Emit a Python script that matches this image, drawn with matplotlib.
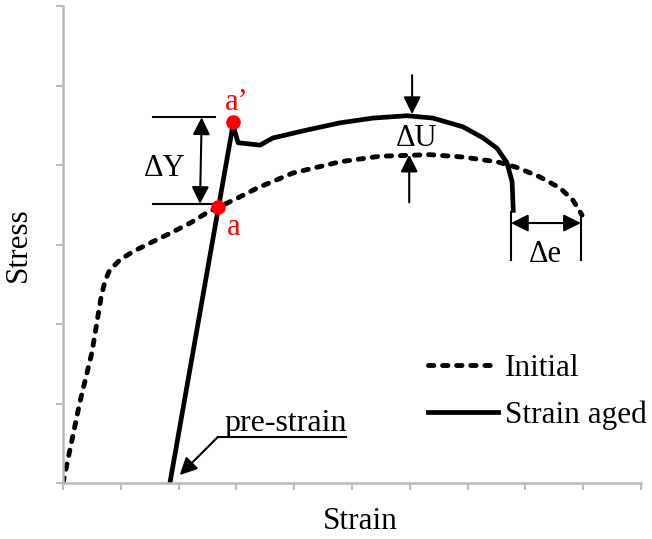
import matplotlib

matplotlib.use("Agg")
import matplotlib.pyplot as plt

# curve data (arbitrary units)
initial_strain = [0, 0.29, 0.50, 0.66, 0.73, 0.81, 0.99, 1.21, 1.51, 1.85, 2.20,
                  2.49, 3.01, 3.36, 3.98, 4.79, 5.48, 6.35, 6.92, 7.51, 7.85,
                  8.25, 8.60, 8.82, 8.98]
initial_stress = [0, 1.01, 1.64, 2.34, 2.55, 2.68, 2.81, 2.91, 3.02, 3.14, 3.27,
                  3.40, 3.58, 3.71, 3.90, 4.04, 4.11, 4.13, 4.10, 4.04, 3.97,
                  3.85, 3.71, 3.56, 3.37]

aged_strain = [1.85, 2.94, 3.03, 3.41, 3.63, 4.22, 4.79, 5.36, 5.95, 6.40, 6.92,
               7.27, 7.51, 7.68, 7.77, 7.79]
aged_stress = [0, 4.50, 4.28, 4.25, 4.34, 4.44, 4.53, 4.59, 4.62, 4.59, 4.48,
               4.34, 4.21, 4.03, 3.79, 3.43]

# points a and a'
point_strain = [2.69, 2.94]
point_stress = [3.47, 4.54]
point_labels = ["a", "a\u2019"]

legend_labels = ["Initial", "Strain aged"]

plt.rcParams["font.family"] = ["Liberation Serif", "DejaVu Serif"]
axis_gray = "#b4bdb8"

fig = plt.figure(figsize=(6.52, 5.39), dpi=100)
ax = fig.add_axes([63 / 652, 56 / 539, 578 / 652, 477 / 539])

l1, = ax.plot(initial_strain, initial_stress, color="k", lw=3.5,
              dashes=(1.1, 1.8), dash_capstyle="round", label=legend_labels[0])
l2, = ax.plot(aged_strain, aged_stress, color="k", lw=3.4, label=legend_labels[1],
              solid_joinstyle="round")
ax.plot(point_strain, point_stress, "o", color="#ff0000", ms=9.5, zorder=5)

ax.text(2.84, 3.12, point_labels[0], color="#ff0000", fontsize=22)
ax.text(2.80, 4.69, point_labels[1], color="#ff0000", fontsize=22)

head = dict(arrowstyle="<|-|>", mutation_scale=26, lw=1.5, color="k",
            shrinkA=0, shrinkB=0)
one_head = dict(arrowstyle="-|>", mutation_scale=26, lw=1.5, color="k",
                shrinkA=0, shrinkB=0)
thin = dict(color="k", lw=1.5)

# delta Y
ax.plot([1.56, 2.63], [4.60, 4.60], **thin)
ax.plot([1.56, 2.63], [3.51, 3.51], **thin)
ax.annotate("", xy=(2.37, 3.51), xytext=(2.40, 4.60), arrowprops=head)
ax.text(1.76, 3.95, "\u0394Y", fontsize=22, ha="center", va="center")

# delta U
ax.annotate("", xy=(6.04, 4.64), xytext=(6.04, 5.13), arrowprops=one_head)
ax.annotate("", xy=(5.99, 4.13), xytext=(5.99, 3.53), arrowprops=one_head)
ax.text(6.12, 4.33, "\u0394U", fontsize=22, ha="center", va="center")

# delta e
ax.plot([7.75, 7.75], [3.41, 2.81], **thin)
ax.plot([8.96, 8.96], [3.40, 2.81], **thin)
ax.annotate("", xy=(8.96, 3.27), xytext=(7.75, 3.27), arrowprops=head)
ax.text(8.34, 2.88, "\u0394e", fontsize=22, ha="center", va="center")

# pre-strain
ax.text(2.80, 0.66, "pre-strain", fontsize=23, ha="left", va="baseline")
ax.plot([2.68, 4.90], [0.58, 0.58], **thin)
ax.annotate("", xy=(2.02, 0.10), xytext=(2.68, 0.58), arrowprops=one_head)

ax.legend(handles=[l1, l2], loc="upper left", bbox_to_anchor=(428 / 652, 1 - 354 / 539),
          bbox_transform=fig.transFigure, frameon=False, fontsize=22.5,
          handlelength=2.25, handletextpad=0.22, labelspacing=0.56, borderpad=0,
          borderaxespad=0)

ax.set_xlim(0, 10)
ax.set_ylim(0, 6)
ax.set_xticks(range(0, 11))
ax.set_yticks(range(0, 7))
ax.set_xticklabels([])
ax.set_yticklabels([])
ax.tick_params(direction="out", length=5, width=1.5, color=axis_gray)
for side in ["top", "right"]:
    ax.spines[side].set_visible(False)
for side in ["left", "bottom"]:
    ax.spines[side].set_color(axis_gray)
    ax.spines[side].set_linewidth(1.8)

ax.set_xlabel("Strain", fontsize=22.5)
ax.set_ylabel("Stress", fontsize=22.5)
ax.xaxis.set_label_coords(0.514, -0.05)
ax.yaxis.set_label_coords(-0.052, 0.5)

fig.savefig("out.png", dpi=100)
